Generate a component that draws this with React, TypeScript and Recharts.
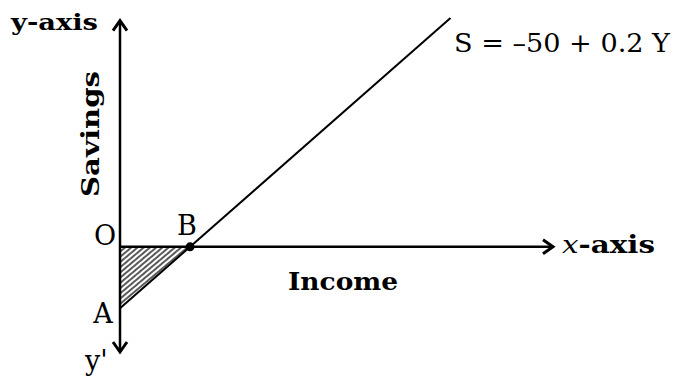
import React from "react";
import { ComposedChart, XAxis, YAxis, Line, Area, Scatter, ReferenceLine } from "recharts";

// S = -50 + 0.2 Y
const incomeDomain = [0, 1546];
const savingsDomain = [-85.5, 183.9];
const savingsLine = [
  { x: 0, s: -50 },
  { x: 1180, s: 186 },
];
const dissavingArea = [
  { x: 0, s: -50 },
  { x: 250, s: 0 },
];
const breakEven = [{ x: 250, s: 0 }];
const arrowTips = [
  { x: 1546, s: 0, dir: "right" },
  { x: 0, s: 183.9, dir: "up" },
  { x: 0, s: -85.5, dir: "down" },
];

const Arrow = (props: any) => {
  const { cx, cy, payload } = props;
  const w = 7;
  const h = 10;
  let pts = "";
  if (payload.dir === "right") pts = `${cx - h},${cy - w} ${cx},${cy} ${cx - h},${cy + w}`;
  if (payload.dir === "up") pts = `${cx - w},${cy + h} ${cx},${cy} ${cx + w},${cy + h}`;
  if (payload.dir === "down") pts = `${cx - w},${cy - h} ${cx},${cy} ${cx + w},${cy - h}`;
  return <polyline points={pts} fill="none" stroke="#000" strokeWidth={3} strokeLinejoin="miter" />;
};

const Dot = (props: any) => <circle cx={props.cx} cy={props.cy} r={4.5} fill="#000" />;

const serif = "'DejaVu Serif', 'Liberation Serif', serif";

export default function App() {
  return (
    <div style={{ position: "absolute", left: 0, top: 0, width: 676, height: 378, background: "#fff" }}>
      <ComposedChart width={676} height={378} margin={{ left: 120, right: 123, top: 18, bottom: 26 }}>
        <defs>
          <pattern id="hatch" width="4" height="4" patternUnits="userSpaceOnUse" patternTransform="rotate(-40)">
            <line x1="0" y1="2" x2="4" y2="2" stroke="#000" strokeWidth="1.3" />
          </pattern>
        </defs>
        <XAxis type="number" dataKey="x" domain={incomeDomain} hide />
        <YAxis type="number" dataKey="s" domain={savingsDomain} hide />
        <Area data={dissavingArea} dataKey="s" baseValue={0} type="linear" fill="url(#hatch)" fillOpacity={1} stroke="none" isAnimationActive={false} />
        <ReferenceLine segment={[{ x: 0, y: -85.5 }, { x: 0, y: 183.9 }]} stroke="#000" strokeWidth={2.5} ifOverflow="visible" />
        <ReferenceLine segment={[{ x: 0, y: 0 }, { x: 1546, y: 0 }]} stroke="#000" strokeWidth={2.5} ifOverflow="visible" />
        <Line data={savingsLine} dataKey="s" type="linear" stroke="#000" strokeWidth={2} dot={false} isAnimationActive={false} />
        <Scatter data={breakEven} dataKey="s" shape={Dot} isAnimationActive={false} />
        <Scatter data={arrowTips} dataKey="s" shape={Arrow} isAnimationActive={false} />
        <text x={11} y={30} fontFamily={serif} fontWeight="bold" fontSize={23} textLength={87} lengthAdjust="spacingAndGlyphs" fill="#000">y-axis</text>
        <text x={454} y={52} fontFamily={serif} fontSize={26} textLength={216} lengthAdjust="spacingAndGlyphs" fill="#000">S = –50 + 0.2 Y</text>
        <text x={0} y={0} transform="translate(99,134) rotate(-90)" textAnchor="middle" fontFamily={serif} fontWeight="bold" fontSize={24} textLength={126} lengthAdjust="spacingAndGlyphs" fill="#000">Savings</text>
        <text x={105} y={245} textAnchor="middle" fontFamily={serif} fontSize={27} fill="#000">O</text>
        <text x={187} y={235} textAnchor="middle" fontFamily={serif} fontSize={27} fill="#000">B</text>
        <text x={103} y={323} textAnchor="middle" fontFamily={serif} fontSize={27} fill="#000">A</text>
        <text x={85} y={370} fontFamily={serif} fontSize={27} fill="#000">y'</text>
        <text x={562} y={253} fontFamily={serif} fontSize={24} textLength={93} lengthAdjust="spacingAndGlyphs" fill="#000">
          <tspan fontStyle="italic">x</tspan>
          <tspan fontWeight="bold">-axis</tspan>
        </text>
        <text x={288} y={290} fontFamily={serif} fontWeight="bold" fontSize={24} textLength={110} lengthAdjust="spacingAndGlyphs" fill="#000">Income</text>
      </ComposedChart>
    </div>
  );
}
